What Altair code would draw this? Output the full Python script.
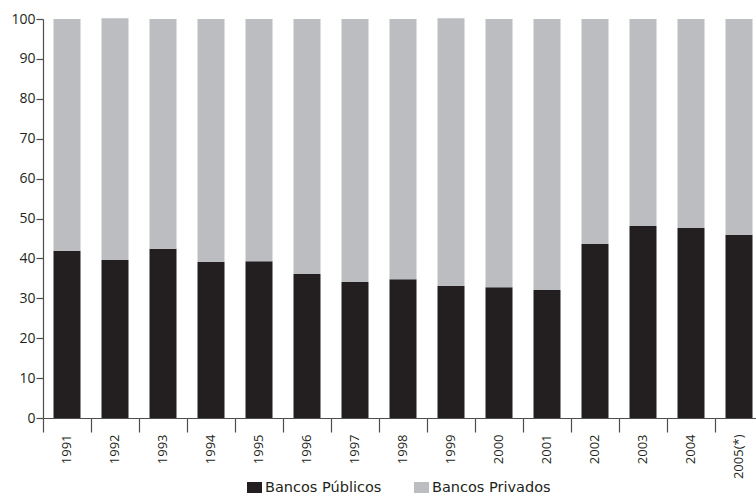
import altair as alt
import pandas as pd

years = ["1991", "1992", "1993", "1994", "1995", "1996", "1997", "1998",
         "1999", "2000", "2001", "2002", "2003", "2004", "2005(*)"]
publicos = [41.9, 39.6, 42.4, 39.1, 39.3, 36.1, 34.1, 34.8,
            33.1, 32.8, 32.1, 43.6, 48.1, 47.6, 45.9]
privados = [58.1, 60.6, 57.6, 60.9, 60.7, 63.9, 65.9, 65.2,
            67.1, 67.2, 67.9, 56.4, 51.9, 52.4, 54.1]
series = ["Bancos Públicos", "Bancos Privados"]
colors = ["#231f20", "#bcbdc0"]

rows = []
for y, pu, pr in zip(years, publicos, privados):
    rows.append({"ano": y, "serie": series[0], "valor": pu, "ordem": 0})
    rows.append({"ano": y, "serie": series[1], "valor": pr, "ordem": 1})
df = pd.DataFrame(rows)

axis_color = "#4d4d4d"

chart = alt.Chart(df).mark_bar(size=27).encode(
    x=alt.X("ano:N", sort=years, title=None,
            scale=alt.Scale(range=[0, 720], paddingInner=0, paddingOuter=0),
            axis=alt.Axis(bandPosition=0, labelAngle=-90, tickSize=14,
                          labelPadding=2, labelFont="Open Sans", labelFontSize=13,
                          labelColor="#231f20", domainColor=axis_color,
                          tickColor=axis_color, labelBaseline="middle")),
    y=alt.Y("valor:Q", stack="zero", title=None,
            scale=alt.Scale(domain=[0, 100], nice=False),
            axis=alt.Axis(values=list(range(0, 101, 10)), tickSize=7, labelPadding=1,
                          labelFont="Open Sans", labelFontSize=14, labelColor="#231f20",
                          domainColor=axis_color, tickColor=axis_color, grid=False)),
    color=alt.Color("serie:N", sort=series,
                    scale=alt.Scale(domain=series, range=colors),
                    legend=alt.Legend(title=None, orient="none", direction="horizontal",
                                      legendX=204, legendY=461,
                                      symbolType="M-1,-0.73H1V0.73H-1Z", symbolSize=225,
                                      symbolStrokeWidth=0, symbolOpacity=1,
                                      labelFont="DejaVu Sans", labelFontSize=14.5,
                                      labelColor="#231f20", labelOffset=3,
                                      columnPadding=32)),
    order=alt.Order("ordem:Q", sort="ascending"),
).properties(
    width=713, height=399,
    autosize=alt.AutoSizeParams(type="none"),
    padding={"left": 43, "top": 19, "right": 0, "bottom": 81},
).configure_view(stroke=None).configure_axis(domainWidth=1.2, tickWidth=1.2)

chart.save("out.html", embed_options={"renderer": "svg", "actions": False})
